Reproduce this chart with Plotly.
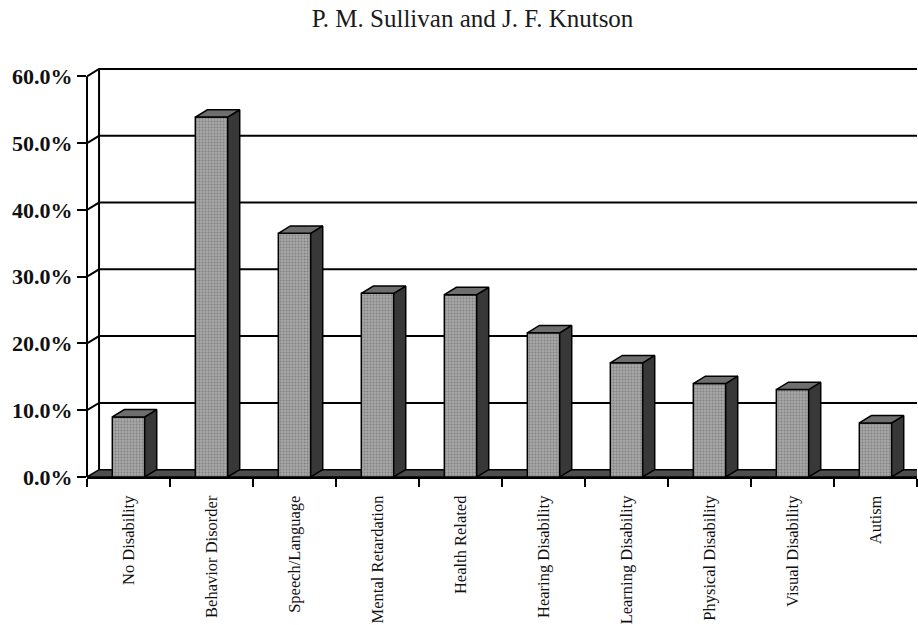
import plotly.graph_objects as go

# Share of children in each disability group
categories = [
    "No Disability", "Behavior Disorder", "Speech/Language", "Mental Retardation",
    "Health Related", "Hearing Disability", "Learning Disability",
    "Physical Disability", "Visual Disability", "Autism",
]
percent = [9.0, 53.9, 36.5, 27.5, 27.3, 21.6, 17.1, 14.0, 13.1, 8.1]

y_ticks = [0, 10, 20, 30, 40, 50, 60]
y_tick_labels = ["0.0%", "10.0%", "20.0%", "30.0%", "40.0%", "50.0%", "60.0%"]

# pseudo-3D depth of the chart box, in axis units
DX = 0.145   # horizontal shift of the back plane (categories)
DY = 1.1     # vertical shift of the back plane (percent)
W = 0.39     # width of a column's front face
X_LO, X_HI = -0.5, len(categories) - 0.5

idx = list(range(len(categories)))
serif = "Liberation Serif, Times New Roman, serif"

fig = go.Figure()

# front faces of the columns
fig.add_trace(go.Bar(
    x=idx, y=percent, width=W,
    marker=dict(
        color="#9a9a9a",
        line=dict(color="black", width=1.5),
        pattern=dict(shape=".", fgcolor="#5a5a5a", bgcolor="#a8a8a8",
                     size=3, solidity=0.35),
    ),
    hoverinfo="skip", showlegend=False,
))

# right-hand side faces and top faces of the columns
side_x, side_y, top_x, top_y = [], [], [], []
for i, v in zip(idx, percent):
    l, r = i - W / 2, i + W / 2
    side_x += [r, r + DX, r + DX, r, r, None]
    side_y += [0, DY, v + DY, v, 0, None]
    top_x += [l, r, r + DX, l + DX, l, None]
    top_y += [v, v, v + DY, v + DY, v, None]

fig.add_trace(go.Scatter(
    x=side_x, y=side_y, mode="lines", fill="toself",
    fillcolor="#383838", line=dict(color="black", width=1.5),
    hoverinfo="skip", showlegend=False,
))
fig.add_trace(go.Scatter(
    x=top_x, y=top_y, mode="lines", fill="toself",
    fillcolor="#6e6e6e", line=dict(color="black", width=1.5),
    hoverinfo="skip", showlegend=False,
))

shapes = []
# floor slab
shapes.append(dict(
    type="path", xref="x", yref="y", layer="below",
    path=f"M {X_LO},0 L {X_HI + 1},0 L {X_HI + 1},{DY} L {X_LO + DX},{DY} Z",
    fillcolor="#4e4e4e", line=dict(color="black", width=1.5),
))
# back-wall gridlines with their short diagonal from the front axis
for t in y_ticks:
    if t == 0:
        continue
    shapes.append(dict(
        type="path", xref="x", yref="y", layer="below",
        path=f"M {X_LO},{t} L {X_LO + DX},{t + DY} L {X_HI + 1},{t + DY}",
        line=dict(color="black", width=2),
    ))
shapes.append(dict(
    type="line", xref="x", yref="y", layer="below",
    x0=X_LO + DX, x1=X_LO + DX, y0=DY, y1=y_ticks[-1] + DY,
    line=dict(color="black", width=2),
))
# front vertical axis line
shapes.append(dict(
    type="line", xref="paper", yref="y", layer="above",
    x0=0, x1=0, y0=0, y1=y_ticks[-1],
    line=dict(color="black", width=2),
))

fig.update_layout(
    width=918, height=625,
    margin=dict(l=87, r=1, t=63, b=142),
    paper_bgcolor="white", plot_bgcolor="white",
    shapes=shapes,
    showlegend=False,
    title=dict(
        text="P. M. Sullivan and J. F. Knutson",
        font=dict(family=serif, size=25, color="#1a1a1a"),
        xref="paper", x=(473 - 87) / 831, xanchor="center",
        yref="container", y=1 - 18 / 625, yanchor="middle",
    ),
    xaxis=dict(
        range=[X_LO, X_HI], tickvals=idx, ticktext=categories,
        tickangle=-90, ticks="outside", ticklen=10, tickcolor="rgba(0,0,0,0)",
        tickfont=dict(family=serif, size=16.5, color="#111"),
        minor=dict(tickvals=[i - 0.5 for i in range(len(categories) + 1)],
                   ticks="outside", ticklen=8, tickwidth=2, tickcolor="black",
                   showgrid=False),
        showline=True, linewidth=2, linecolor="black",
        showgrid=False, zeroline=False, fixedrange=True,
    ),
    yaxis=dict(
        range=[0, 62], tickvals=y_ticks, ticktext=y_tick_labels,
        ticks="outside", ticklen=9, tickwidth=2, tickcolor="black",
        tickfont=dict(family=serif, size=22, color="#111", weight="bold"),
        showline=False, showgrid=False, zeroline=False, fixedrange=True,
    ),
)

fig.write_html("out.html")
